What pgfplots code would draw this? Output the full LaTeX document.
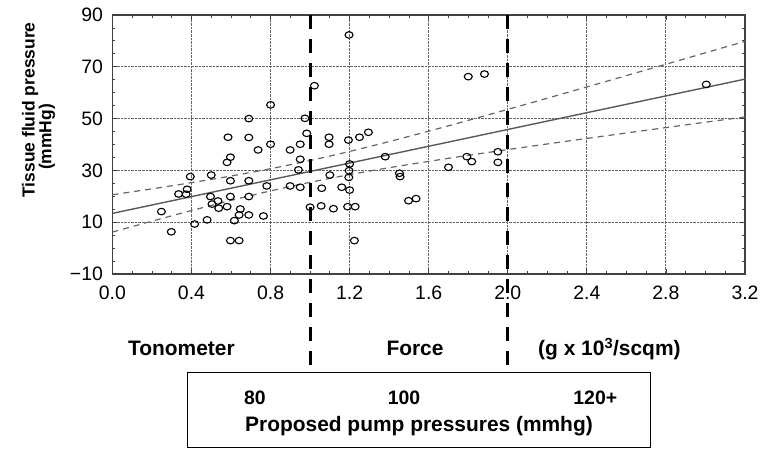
\documentclass[border=0pt]{standalone}
\usepackage{pgfplots}
\pgfplotsset{compat=1.18}
\usepackage{fontspec}
\setmainfont{Liberation Sans}

\begin{document}
\begin{tikzpicture}[x=1bp,y=1bp]
\useasboundingbox (-112.4,-177) rectangle (649.6,274);
\begin{axis}[
  at={(0,0)}, anchor=south west, scale only axis,
  width=632.6bp, height=259bp,
  xmin=0, xmax=3.2, ymin=-10, ymax=90,
  xtick={0,0.4,0.8,1.2,1.6,2.0,2.4,2.8,3.2},
  xticklabels={0.0,0.4,0.8,1.2,1.6,2.0,2.4,2.8,3.2},
  ytick={-10,10,30,50,70,90},
  yticklabels={−10,10,30,50,70,90},
  minor x tick num=3, minor y tick num=3,
  tick align=inside,
  major tick length=5bp, minor tick length=3bp,
  grid=major,
  major grid style={densely dotted, black!60, line width=0.9bp},
  axis line style={black!75, line width=1.4bp},
  tick style={black!75, line width=0.8bp},
  ticklabel style={font=\fontsize{19.5}{22}\selectfont},
  xticklabel style={yshift=-8bp},
  yticklabel style={xshift=-6bp},
  clip=false,
]
% data points
\addplot[only marks, mark=o, mark size=3.3bp, mark options={black, line width=1.1bp, xscale=1.2}] coordinates {
(0.248,14.1) (0.298,6.3) (0.335,20.9) (0.373,20.8) (0.378,22.7) (0.394,27.6)
(0.416,9.3) (0.479,10.9) (0.496,19.9) (0.50,28.2) (0.504,17.0) (0.534,18.2)
(0.538,15.4) (0.58,16.0) (0.58,33.1) (0.597,35.1) (0.585,42.8) (0.597,26.0)
(0.597,19.9) (0.597,2.9) (0.641,2.9) (0.617,10.6) (0.641,12.8) (0.647,15.1)
(0.69,12.8) (0.69,19.9) (0.69,26.0) (0.69,42.7) (0.69,50.0) (0.737,37.9)
(0.764,12.4) (0.781,24.0) (0.80,40.1) (0.80,55.3) (0.899,37.9) (0.899,24.0)
(0.95,40.1) (0.95,34.3) (0.95,23.5) (0.941,30.2) (0.974,50.1) (0.983,44.3)
(1.0,15.8) (1.022,62.7) (1.056,16.3) (1.059,23.1) (1.096,42.8) (1.096,40.1)
(1.10,28.2) (1.118,15.2) (1.16,23.5) (1.19,16.0) (1.228,16.0) (1.194,41.7)
(1.20,32.5) (1.197,29.9) (1.196,27.3) (1.20,22.4) (1.197,82.3) (1.224,2.9)
(1.25,42.8) (1.295,44.7) (1.38,35.3) (1.452,28.9) (1.455,27.6) (1.498,18.3)
(1.536,19.1) (1.70,31.2) (1.793,35.3) (1.818,33.4) (1.80,66.2) (1.882,67.2)
(1.95,37.2) (1.95,33.1) (3.004,63.2)
};
% regression line
\addplot[black!65, line width=1.4bp] coordinates {(0,13.4) (3.2,65.24)};
% confidence bands
\addplot[black!60, line width=1.2bp, dash pattern=on 6bp off 5bp, smooth] coordinates {
(0,20.61) (0.2,22.88) (0.4,25.27) (0.6,27.83) (0.8,30.65) (1.0,33.81) (1.2,37.32)
(1.4,41.13) (1.6,45.15) (1.8,49.31) (2.0,53.56) (2.2,57.87) (2.4,62.22) (2.6,66.60)
(2.8,70.99) (3.0,75.40) (3.2,79.84)
};
\addplot[black!60, line width=1.2bp, dash pattern=on 6bp off 5bp, smooth] coordinates {
(0,6.19) (0.2,10.40) (0.4,14.49) (0.6,18.41) (0.8,22.07) (1.0,25.39) (1.2,28.36)
(1.4,31.03) (1.6,33.49) (1.8,35.81) (2.0,38.04) (2.2,40.21) (2.4,42.34) (2.6,44.44)
(2.8,46.53) (3.0,48.60) (3.2,50.64)
};
% thick dividing lines
\addplot[black, line width=3bp, dash pattern=on 14bp off 10bp] coordinates {(1,90) (1,-48.2)};
\addplot[black, line width=3bp, dash pattern=on 14bp off 10bp] coordinates {(2,90) (2,-48.2)};
\end{axis}
% y label
\node[rotate=90, font=\bfseries\fontsize{17.5}{20}\selectfont] at (-82.4,164) {Tissue fluid pressure};
\node[rotate=90, font=\bfseries\fontsize{17.5}{20}\selectfont] at (-65.4,137) {(mmHg)};
% lower labels
\node[anchor=base, font=\bfseries\fontsize{21}{24}\selectfont] at (69,-82) {Tonometer};
\node[anchor=base, font=\bfseries\fontsize{21}{24}\selectfont] at (302.6,-82) {Force};
\node[anchor=base, font=\bfseries\fontsize{21}{24}\selectfont] at (497,-82) {(g x 10\textsuperscript{3}/scqm)};
\draw[line width=1bp] (74.6,-99) rectangle (537.6,-174);
\node[anchor=base, font=\bfseries\fontsize{19.5}{22}\selectfont] at (142.6,-131) {80};
\node[anchor=base, font=\bfseries\fontsize{19.5}{22}\selectfont] at (291.6,-131) {100};
\node[anchor=base, font=\bfseries\fontsize{19.5}{22}\selectfont] at (482.9,-131) {120+};
\node[anchor=base, font=\bfseries\fontsize{21}{24}\selectfont] at (306.6,-158) {Proposed pump pressures (mmhg)};
\end{tikzpicture}
\end{document}
